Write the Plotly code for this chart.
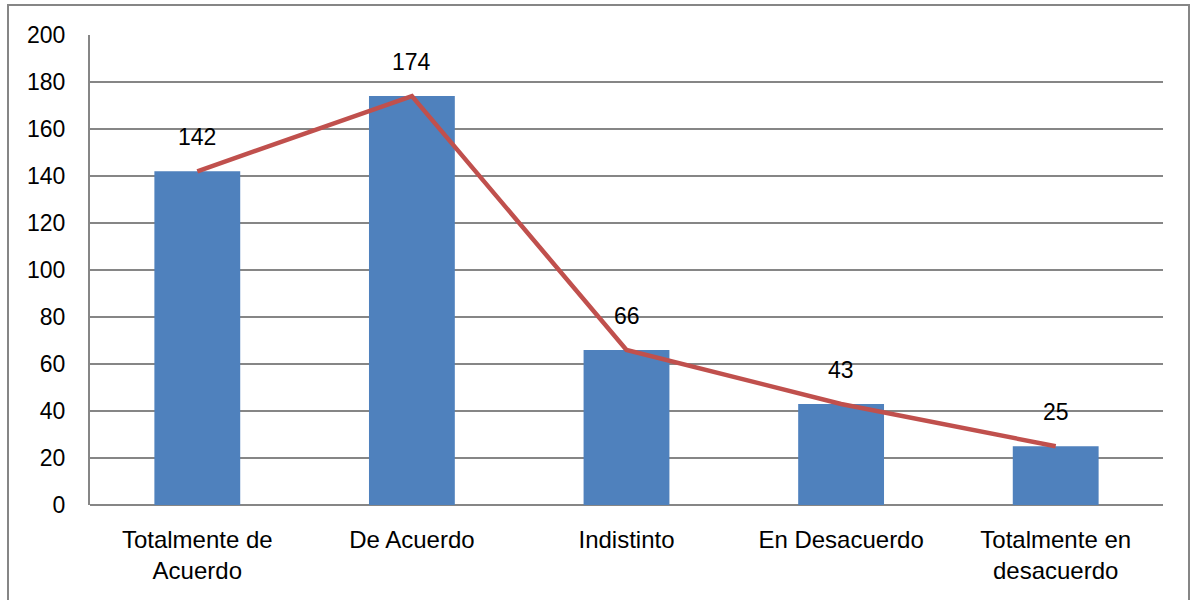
import plotly.graph_objects as go

categories = ["Totalmente de<br>Acuerdo", "De Acuerdo", "Indistinto", "En Desacuerdo", "Totalmente en<br>desacuerdo"]
counts = [142, 174, 66, 43, 25]
y_ticks = [0, 20, 40, 60, 80, 100, 120, 140, 160, 180, 200]

FONT = "Liberation Sans, Arial, sans-serif"
FS = 24
W, H = 1191, 600
L, R, T, B = 90, 28, 35, 95
pw, ph = W - L - R, H - T - B

fig = go.Figure()
fig.add_trace(go.Bar(
    x=categories, y=counts, marker=dict(color="#4F81BD", line=dict(width=0)),
    width=0.4, hoverinfo="skip",
))
fig.add_trace(go.Scatter(
    x=categories, y=counts, mode="lines",
    line=dict(color="#C0504D", width=4.5), hoverinfo="skip",
))
for c, v in zip(categories, counts):
    fig.add_annotation(x=c, y=v, text=str(v), showarrow=False, yshift=34,
                       font=dict(family=FONT, size=FS - 1, color="#000"))

# outer chart frame
fig.add_shape(type="rect", xref="paper", yref="paper",
              x0=(8 - L) / pw, x1=(1189 - L) / pw,
              y0=-(H + 10 - T - ph) / ph, y1=(H - 5 - B) / ph,
              line=dict(color="#868686", width=2), layer="below")

fig.update_layout(
    width=W, height=H, margin=dict(l=L, r=R, t=T, b=B),
    paper_bgcolor="white", plot_bgcolor="white", showlegend=False,
    bargap=0.6,
    font=dict(family=FONT, size=FS, color="#000"),
    xaxis=dict(showgrid=False, showline=False, ticks="", tickfont=dict(size=FS),
               ticklabelstandoff=18),
    yaxis=dict(range=[0, 200], tickvals=y_ticks, showgrid=True, gridcolor="#868686",
               gridwidth=2, showline=True, linecolor="#868686", linewidth=2,
               zeroline=True, zerolinecolor="#868686", zerolinewidth=2,
               ticks="", tickfont=dict(size=FS - 1), ticklabelstandoff=18),
)
fig.write_html("out.html")
